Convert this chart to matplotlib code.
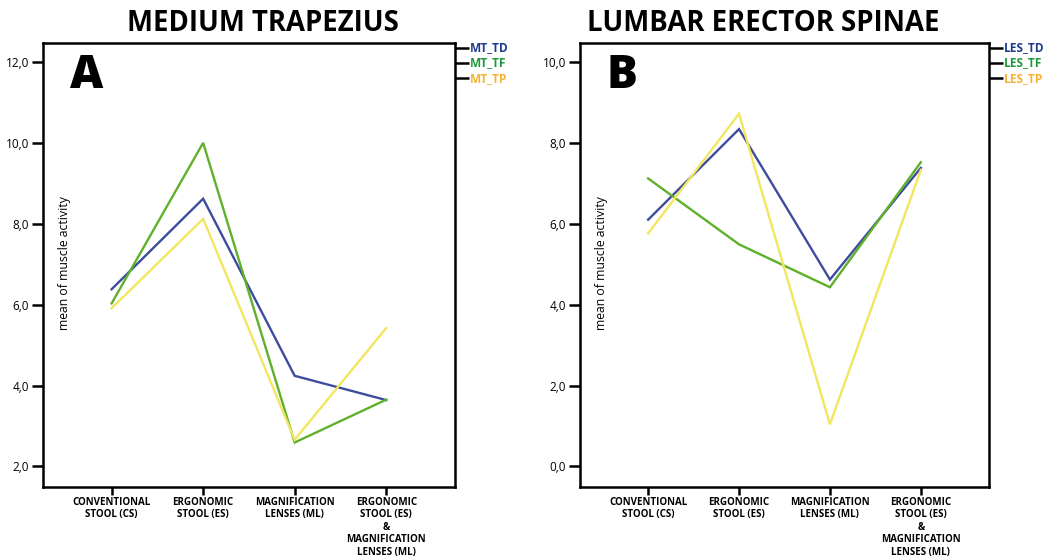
import matplotlib
matplotlib.use("Agg")
import matplotlib.pyplot as plt

categories = ["CONVENTIONAL\nSTOOL (CS)", "ERGONOMIC\nSTOOL (ES)", "MAGNIFICATION\nLENSES (ML)",
              "ERGONOMIC\nSTOOL (ES)\n&\nMAGNIFICATION\nLENSES (ML)"]

mt_td = [6.38, 8.62, 4.24, 3.64]
mt_tf = [6.03, 10.00, 2.59, 3.65]
mt_tp = [5.91, 8.12, 2.66, 5.42]

les_td = [6.10, 8.34, 4.62, 7.38]
les_tf = [7.12, 5.49, 4.43, 7.52]
les_tp = [5.76, 8.72, 1.04, 7.33]

yticks_a = [2.0, 4.0, 6.0, 8.0, 10.0, 12.0]
yticks_b = [0.0, 2.0, 4.0, 6.0, 8.0, 10.0]

line_colors = ["#3E4C9E", "#5FB02A", "#F2E660"]
label_colors = ["#1F3A8F", "#1C9A3A", "#F7B233"]

plt.rcParams['font.family'] = ['Open Sans', 'DejaVu Sans']

fig = plt.figure(figsize=(10.48, 5.58), dpi=100)

def panel(rect, series, names, yticks, ylim, title, title_x, letter):
    ax = fig.add_axes(rect)
    x = list(range(len(categories)))
    for s, c in zip(series, line_colors):
        ax.plot(x, s, color=c, lw=1.7, solid_joinstyle='miter')
    ax.set_xlim(-0.75, 3.75)
    ax.set_ylim(*ylim)
    ax.set_yticks(yticks)
    ax.set_yticklabels([f"{v:.1f}".replace('.', ',') for v in yticks], fontsize=8.5)
    ax.set_xticks(x)
    ax.set_xticklabels(categories, fontsize=7.0, fontweight='bold', linespacing=1.17, va='top')
    ax.tick_params(axis='both', direction='out', width=1.8, color='black')
    ax.tick_params(axis='y', length=8, pad=2)
    ax.tick_params(axis='x', length=6, pad=1)
    for sp in ax.spines.values():
        sp.set_linewidth(1.8)
    ax.text(0.052, 0.505, "mean of muscle activity", transform=ax.transAxes, rotation=90,
            ha='center', va='center', fontsize=8.8)
    ax.text(0.065, 0.978, letter, transform=ax.transAxes, ha='left', va='top',
            fontsize=33, fontweight='heavy')
    fig.text(title_x, 0.958, title, ha='center', va='center', fontsize=19.8, fontweight='bold')
    for i, (nm, lc) in enumerate(zip(names, label_colors)):
        yy = 0.989 - i * 0.034
        ax.plot([1.0, 1.035], [yy, yy], transform=ax.transAxes, color='black', lw=1.8,
                clip_on=False, solid_capstyle='butt')
        ax.text(1.037, yy, nm, transform=ax.transAxes, ha='left', va='center',
                fontsize=8.6, fontweight='bold', color=lc)
    return ax

panel([0.041, 0.1265, 0.393, 0.7965], [mt_td, mt_tf, mt_tp], ["MT_TD", "MT_TF", "MT_TP"],
      yticks_a, (1.48, 12.47), "MEDIUM TRAPEZIUS", 263 / 1048, "A")
panel([0.5534, 0.1265, 0.3903, 0.7965], [les_td, les_tf, les_tp], ["LES_TD", "LES_TF", "LES_TP"],
      yticks_b, (-0.52, 10.47), "LUMBAR ERECTOR SPINAE", 763 / 1048, "B")

fig.savefig("out.png", dpi=100)
